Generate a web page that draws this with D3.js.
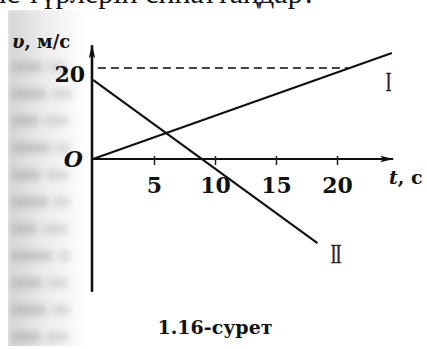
<!DOCTYPE html>
<html>
<head>
<meta charset="utf-8">
<script src="https://cdn.jsdelivr.net/npm/d3@7"></script>
<style>
  html, body { margin: 0; padding: 0; background: #fff; }
  svg { display: block; }
</style>
</head>
<body>
<svg id="fig" width="427" height="349"></svg>
<script>
// Velocity–time graph of two bodies (I and II), figure 1.16
const timeTicks = [5, 10, 15, 20];
const speedTicks = [20];
const lineI = [{ t: 0, v: 0 }, { t: 24.5, v: 23.3 }];
const lineII = [{ t: 0, v: 17.4 }, { t: 18.4, v: -18.5 }];
const refLevel = [{ t: 0.4, v: 20 }, { t: 20.9, v: 20 }];
const axisSpanT = [0, 24.6];
const axisSpanV = [-29.2, 25];
const headerText = "қозғалыс түрлерін сипаттаңдар?";
const captionText = "1.16-сурет";
// word lengths of the faded facing-page text in the left margin
const marginWords = [[30, 18], [34, 20], [26, 24], [38, 14], [28, 22], [36, 16], [24, 26], [40, 12], [30, 20], [34, 18], [28, 22]];

const svg = d3.select("#fig");
const x = d3.scaleLinear().domain([0, 25]).range([93, 398]);
const y = d3.scaleLinear().domain([0, 20]).range([159, 68]);

const serif = "'DejaVu Serif', 'Liberation Serif', serif";
const defs = svg.append("defs");
defs.append("filter").attr("id", "soft")
  .attr("x", "-30%").attr("y", "-30%").attr("width", "160%").attr("height", "160%")
  .append("feGaussianBlur").attr("stdDeviation", 3.6);
const grad = defs.append("linearGradient").attr("id", "fade").attr("x1", 0).attr("x2", 1);
grad.append("stop").attr("offset", "0%").attr("stop-color", "#d2d2d2");
grad.append("stop").attr("offset", "50%").attr("stop-color", "#ededed");
grad.append("stop").attr("offset", "100%").attr("stop-color", "#fff");
defs.append("clipPath").attr("id", "strip").append("rect")
  .attr("x", 8).attr("y", 10).attr("width", 100).attr("height", 336);

// faded page margin on the left
const margin = svg.append("g").attr("clip-path", "url(#strip)");
margin.append("rect").attr("x", 6).attr("y", 8).attr("width", 80).attr("height", 345)
  .attr("fill", "url(#fade)").attr("filter", "url(#soft)");
const rows = margin.append("g").attr("filter", "url(#soft)").attr("opacity", 0.45)
  .selectAll("g").data(marginWords).join("g")
  .attr("transform", (d, i) => `translate(12,${62 + i * 27})`);
rows.append("rect").attr("x", 0).attr("y", 0).attr("width", d => d[0]).attr("height", 10).attr("fill", "#9a9a9a");
rows.append("rect").attr("x", d => d[0] + 6).attr("y", 0).attr("width", d => d[1]).attr("height", 10).attr("fill", "#b4b4b4");

// partial line of body text at the top
svg.append("text").attr("x", 316).attr("y", 3).attr("text-anchor", "end")
  .attr("font-family", "'Liberation Serif', serif").attr("font-size", 30)
  .attr("fill", "#111").text(headerText);

// arrow head marker
defs.append("marker").attr("id", "arrow").attr("viewBox", "0 -4 14 8")
  .attr("refX", 13).attr("refY", 0).attr("markerWidth", 14).attr("markerHeight", 8)
  .attr("markerUnits", "userSpaceOnUse").attr("orient", "auto")
  .append("path").attr("d", "M0,-3.2L14,0L0,3.2L3,0Z").attr("fill", "#111");

// axes
svg.append("line")
  .attr("x1", x(axisSpanT[0]) - 1).attr("x2", x(axisSpanT[1]))
  .attr("y1", y(0)).attr("y2", y(0))
  .attr("stroke", "#111").attr("stroke-width", 2.2).attr("marker-end", "url(#arrow)");
svg.append("line")
  .attr("x1", x(0) - 1).attr("x2", x(0) - 1)
  .attr("y1", y(axisSpanV[0])).attr("y2", y(axisSpanV[1]))
  .attr("stroke", "#111").attr("stroke-width", 2.6).attr("marker-end", "url(#arrow)");

const xAxis = svg.append("g").attr("transform", `translate(0,${y(0)})`)
  .call(d3.axisBottom(x).tickValues(timeTicks).tickSize(6).tickPadding(12));
xAxis.select(".domain").remove();
xAxis.selectAll(".tick line").attr("stroke", "#222").attr("stroke-width", 1.5).attr("y1", -3);
xAxis.selectAll(".tick text")
  .attr("font-family", serif).attr("font-weight", "bold").attr("font-size", 22)
  .attr("fill", "#111").attr("dy", "0.72em");

const yAxis = svg.append("g").attr("transform", `translate(${x(0) - 8},0)`)
  .call(d3.axisLeft(y).tickValues(speedTicks).tickSize(0).tickPadding(0));
yAxis.select(".domain").remove();
yAxis.selectAll(".tick text")
  .attr("font-family", serif).attr("font-weight", "bold").attr("font-size", 22)
  .attr("fill", "#111").attr("dy", "0.62em");

// origin label
svg.append("text").attr("x", x(0) - 10).attr("y", y(0) + 8).attr("text-anchor", "end")
  .attr("font-family", serif).attr("font-weight", "bold").attr("font-style", "italic")
  .attr("font-size", 22).attr("fill", "#111").text("O");

// axis titles
const vt = svg.append("text").attr("x", 12).attr("y", 48)
  .attr("font-family", serif).attr("font-weight", "bold").attr("font-size", 18).attr("fill", "#111");
vt.append("tspan").attr("font-style", "italic").text("υ");
vt.append("tspan").text(", м/с");
const tt = svg.append("text").attr("x", 389).attr("y", 184)
  .attr("font-family", serif).attr("font-weight", "bold").attr("font-size", 19).attr("fill", "#111");
tt.append("tspan").attr("font-style", "italic").text("t");
tt.append("tspan").text(", с");

// graphs
const path = d3.line().x(d => x(d.t)).y(d => y(d.v));
svg.append("path").datum(refLevel).attr("d", path)
  .attr("fill", "none").attr("stroke", "#444").attr("stroke-width", 2)
  .attr("stroke-dasharray", "8,5");
svg.append("path").datum(lineI).attr("d", path)
  .attr("fill", "none").attr("stroke", "#111").attr("stroke-width", 2.2);
svg.append("path").datum(lineII).attr("d", path)
  .attr("fill", "none").attr("stroke", "#111").attr("stroke-width", 2.2);

// graph labels (Roman numerals)
const roman = [
  { label: "I", t: 24.2, v: 14.9 },
  { label: "II", t: 19.9, v: -22.9 }
];
svg.selectAll("text.num").data(roman).join("text").attr("class", "num")
  .attr("transform", d => `translate(${x(d.t)},${y(d.v)}) scale(0.62,1)`)
  .attr("text-anchor", "middle")
  .attr("font-family", "'Liberation Serif', serif").attr("font-size", 27)
  .attr("fill", "#222").attr("stroke", "#222").attr("stroke-width", 0.6)
  .attr("letter-spacing", -1).text(d => d.label);

// caption
svg.append("text").attr("x", 215).attr("y", 334).attr("text-anchor", "middle")
  .attr("font-family", serif).attr("font-weight", "bold").attr("font-size", 19)
  .attr("fill", "#111").text(captionText);
</script>
</body>
</html>
